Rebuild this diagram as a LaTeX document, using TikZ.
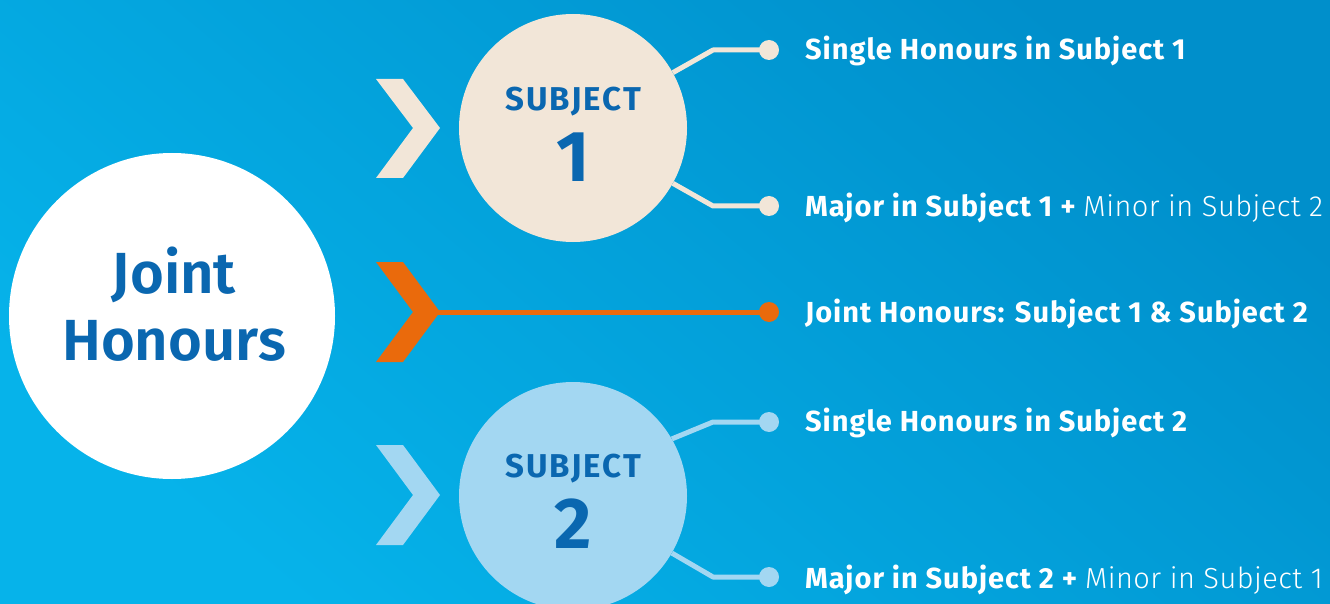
\documentclass[tikz,border=0pt]{standalone}
\usepackage{fontspec}
\setmainfont{Fira Sans}
\newfontfamily\lblfont[LetterSpace=3.3]{Fira Sans}
\newfontfamily\flight[LetterSpace=1.5]{Fira Sans Light}
\newfontfamily\subjfont[LetterSpace=6]{Fira Sans}
\newfontfamily\semib{Fira Sans SemiBold}
\definecolor{bgdark}{HTML}{008FCB}
\definecolor{bglight}{HTML}{06B3EA}
\definecolor{navy}{HTML}{0A67B0}
\definecolor{beige}{HTML}{F2E6D8}
\definecolor{lblue}{HTML}{A3D7F2}
\definecolor{orng}{HTML}{EA6A0C}
\begin{document}
\begin{tikzpicture}[x=1pt,y=-1pt,
  bigc/.style={circle,minimum size=326pt,inner sep=0pt,text=navy,align=center,
    font=\fontsize{58}{67}\semib},
  subj/.style={circle,minimum size=228pt,inner sep=0pt},
  subjtitle/.style={text=navy,font=\fontsize{33}{36}\subjfont\bfseries,inner sep=0pt},
  subjnum/.style={text=navy,font=\fontsize{72}{80}\selectfont\bfseries,inner sep=0pt},
  dotn/.style={circle,minimum size=20pt,inner sep=0pt},
  conn/.style={line width=5pt,line join=round},
  lbl/.style={anchor=base west,text=white,inner sep=0pt,font=\fontsize{29}{32}\lblfont\bfseries}
]
\useasboundingbox (0,0) rectangle (1330,604);
\shade[top color=bgdark,bottom color=bglight,shading angle=-40] (0,0) rectangle (1330,604);

% chevrons
\fill[beige] (376,79) -- (403,79) -- (440,128) -- (403,178) -- (376,178) -- (413,128) -- cycle;
\fill[orng] (376,262) -- (403,262) -- (440,312) -- (403,362) -- (376,362) -- (413,312) -- cycle;
\fill[lblue] (376,445) -- (403,445) -- (440,495) -- (403,545) -- (376,545) -- (413,495) -- cycle;
\coordinate (chev) at (438,312);

% main circle
\fill[white] (172,316) circle[radius=163pt];
\node[bigc] (joint) at (174,304) {Joint\\Honours};

% subject circles
\node[subj,fill=beige] (s1) at (573,128) {};
\node[subjtitle] (s1t) at (573,102) {SUBJECT};
\node[subjnum] (s1n) at (573,157) {1};
\node[subj,fill=lblue] (s2) at (573,496) {};
\node[subjtitle] (s2t) at (573,469) {SUBJECT};
\node[subjnum] (s2n) at (573,524) {2};

% dots
\node[dotn,fill=beige] (d1) at (769,50) {};
\node[dotn,fill=beige] (d2) at (769,206) {};
\node[dotn,fill=orng] (d3) at (769,312) {};
\node[dotn,fill=lblue] (d4) at (769,422) {};
\node[dotn,fill=lblue] (d5) at (769,577) {};

% bend points
\coordinate (b1) at (713,50);
\coordinate (b2) at (713,206);
\coordinate (b4) at (713,422);
\coordinate (b5) at (713,577);

% connectors
\draw[conn,beige] (s1.29) -- (b1) -- (d1.center);
\draw[conn,beige] (s1.-29) -- (b2) -- (d2.center);
\draw[conn,orng] (chev) -- (d3.center);
\draw[conn,lblue] (s2.30) -- (b4) -- (d4.center);
\draw[conn,lblue] (s2.-30) -- (b5) -- (d5.center);

% labels
\node[lbl] (l1) at (805,60) {Single Honours in Subject 1};
\node[lbl] (l2) at (805,216) {Major in Subject 1 + {\flight\mdseries Minor in Subject 2}};
\node[lbl] (l3) at (805,322) {Joint Honours: Subject 1 \& Subject 2};
\node[lbl] (l4) at (805,431) {Single Honours in Subject 2};
\node[lbl] (l5) at (805,588) {Major in Subject 2 + {\flight\mdseries Minor in Subject 1}};
\end{tikzpicture}
\end{document}
